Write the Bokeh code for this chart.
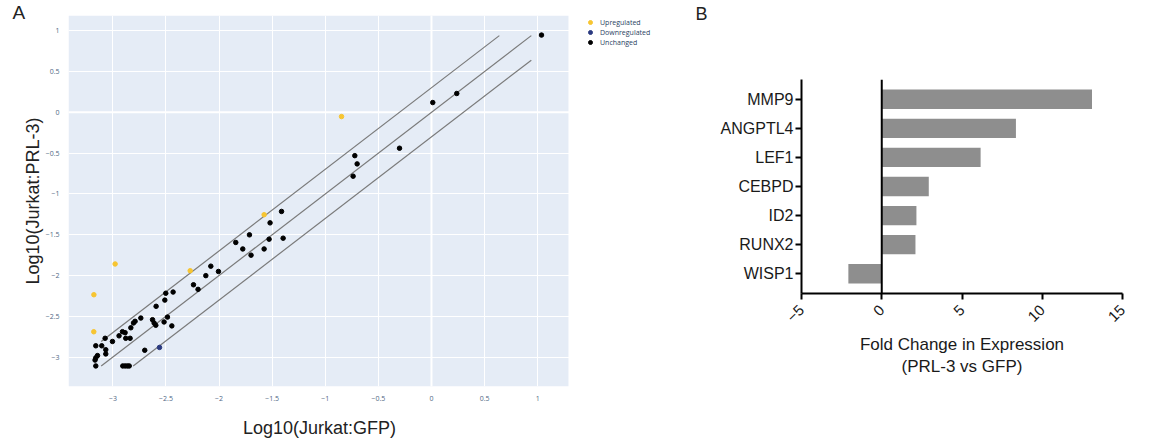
import math
from bokeh.plotting import figure
from bokeh.layouts import row
from bokeh.models import Legend, LegendItem, Span, FactorRange, Title, BoxAnnotation
from bokeh.embed import file_html
from bokeh.resources import INLINE

# ---------------- Panel A data ----------------
unchanged_x = [-3.161, -3.105, -3.067, -3.067, -3.145, -3.161, -3.168, -3.161, -3.073, -3.004,
               -2.942, -2.910, -2.885, -2.879, -2.838, -2.831, -2.806, -2.791, -2.737, -2.700,
               -2.627, -2.612, -2.596, -2.593, -2.518, -2.511, -2.502, -2.486, -2.445, -2.433,
               -2.907, -2.885, -2.864, -2.846, -2.241, -2.198, -2.125, -2.078, -2.006, -1.843,
               -1.777, -1.714, -1.699, -1.576, -1.529, -1.520, -1.412, -1.397, -0.722, -0.700,
               -0.738, -0.301, 0.012, 0.238, 1.036]
unchanged_y = [-2.862, -2.862, -2.910, -2.962, -2.982, -3.010, -3.037, -3.109, -2.770, -2.809,
               -2.740, -2.689, -2.701, -2.770, -2.770, -2.641, -2.582, -2.562, -2.522, -2.917,
               -2.542, -2.582, -2.610, -2.378, -2.570, -2.302, -2.218, -2.510, -2.618, -2.203,
               -3.109, -3.109, -3.109, -3.109, -2.114, -2.170, -2.002, -1.886, -1.951, -1.595,
               -1.675, -1.502, -1.751, -1.675, -1.555, -1.355, -1.215, -1.543, -0.531, -0.632,
               -0.783, -0.440, 0.120, 0.231, 0.947]
up_x = [-3.179, -3.180, -2.979, -2.272, -1.576, -0.847]
up_y = [-2.236, -2.690, -1.859, -1.942, -1.255, -0.052]
down_x = [-2.561]
down_y = [-2.882]
diag_lo, diag_hi = -3.11, 0.94
fold_offsets = [0.301, 0.0, -0.301]
a_ticks = [-3.0, -2.5, -2.0, -1.5, -1.0, -0.5, 0.0, 0.5, 1.0]
a_tick_labels = ["\u22123", "\u22122.5", "\u22122", "\u22121.5", "\u22121", "\u22120.5", "0", "0.5", "1"]
legend_labels = ["Upregulated", "Downregulated", "Unchanged"]

# ---------------- Panel B data ----------------
genes = ["MMP9", "ANGPTL4", "LEF1", "CEBPD", "ID2", "RUNX2", "WISP1"]
fold_change = [13.1, 8.36, 6.16, 2.93, 2.16, 2.10, -2.08]
b_ticks = [-5, 0, 5, 10, 15]

ARIAL = "Liberation Sans"
NBSP = "\u00a0"

# ================= Panel A =================
# plot area spans x in [A_X0, A_X1]; the frame is extended to the right to host the legend
A_X0, A_X1, A_XEND = -3.418, 1.29, 2.439
A_Y0, A_Y1 = -3.361, 1.187

pA = figure(width=690, height=440, x_range=(A_X0, A_XEND), y_range=(A_Y0, A_Y1),
            output_backend="svg", toolbar_location=None,
            min_border_left=68, min_border_right=0, min_border_top=15, min_border_bottom=46)
pA.frame_align = False
pA.background_fill_color = "white"
pA.border_fill_color = "white"
pA.outline_line_color = None
pA.add_layout(BoxAnnotation(left=A_X0, right=A_X1, fill_color="#e5ecf6", fill_alpha=1.0,
                            line_color=None, level="image"))
pA.title = Title(text="A", align="left", offset=-56, standoff=-14,
                 text_font=ARIAL, text_font_size="19px", text_font_style="normal",
                 text_color="#222222")
for ax in (pA.xaxis[0], pA.yaxis[0]):
    ax.ticker = a_ticks
    ax.major_label_overrides = dict(zip(a_ticks, a_tick_labels))
    ax.axis_line_color = None
    ax.major_tick_line_color = None
    ax.minor_tick_line_color = None
    ax.major_label_text_font = "Open Sans"
    ax.major_label_text_font_size = "7px"
    ax.major_label_text_color = "#506784"
    ax.major_label_standoff = 3
    ax.axis_label_text_font = ARIAL
    ax.axis_label_text_font_size = "18px"
    ax.axis_label_text_font_style = "normal"
    ax.axis_label_text_color = "#222222"
pA.xaxis.bounds = (A_X0, A_X1)
pA.yaxis.bounds = (A_Y0 + 0.156, A_Y1)
# trailing no-break spaces keep the label centred under the plot area rather than the legend
pA.xaxis.axis_label = "Log10(Jurkat:GFP)" + NBSP * 24
pA.yaxis.axis_label = "Log10(Jurkat:PRL-3)"
pA.xaxis.axis_label_standoff = 14
pA.yaxis.axis_label_standoff = 0
pA.grid.grid_line_color = "white"
pA.grid.grid_line_width = 1
pA.add_layout(Span(location=0, dimension="height", line_color="white", line_width=2, level="underlay"))
pA.add_layout(Span(location=0, dimension="width", line_color="white", line_width=2, level="underlay"))

for off in fold_offsets:
    x0 = max(diag_lo, diag_lo - off)
    x1 = min(diag_hi, diag_hi - off)
    pA.line([x0, x1], [x0 + off, x1 + off], line_color="#7a7a7a", line_width=1.2)

r_up = pA.scatter(up_x, up_y, size=4.5, color="#f7c531")
r_down = pA.scatter(down_x, down_y, size=4.5, color="#2b3a80")
r_unch = pA.scatter(unchanged_x, unchanged_y, size=4.5, color="black")

legend = Legend(items=[LegendItem(label=legend_labels[0], renderers=[r_up]),
                       LegendItem(label=legend_labels[1], renderers=[r_down]),
                       LegendItem(label=legend_labels[2], renderers=[r_unch])],
                location=(517, 339))
legend.background_fill_alpha = 0
legend.border_line_color = None
legend.label_text_font = "Open Sans"
legend.label_text_font_size = "7px"
legend.label_text_color = "#2a3f5f"
legend.glyph_width = 10
legend.glyph_height = 10
legend.label_height = 10
legend.spacing = 0
legend.padding = 2
legend.margin = 0
legend.label_standoff = 5
pA.add_layout(legend, "center")

# ================= Panel B =================
pB = figure(width=461, height=440, x_range=(-5, 15),
            y_range=FactorRange(factors=genes[::-1], range_padding=0.0514),
            output_backend="svg", toolbar_location=None,
            min_border_left=111, min_border_right=29, min_border_top=79, min_border_bottom=147)
pB.frame_align = False
pB.outline_line_color = None
pB.background_fill_color = "white"
pB.border_fill_color = "white"
pB.grid.grid_line_color = None
pB.title = Title(text="B\n" + NBSP + "\n" + NBSP, align="left", offset=-106, standoff=0,
                 text_line_height=1.4,
                 text_font=ARIAL, text_font_size="18px", text_font_style="normal",
                 text_color="#222222")
pB.hbar(y=genes, right=fold_change, left=0, height=0.665, fill_color="#8e8e8e", line_color=None)
pB.add_layout(Span(location=0, dimension="height", line_color="black", line_width=2))

for ax in (pB.xaxis[0], pB.yaxis[0]):
    ax.axis_line_color = "black"
    ax.axis_line_width = 2
    ax.major_tick_line_color = "black"
    ax.major_tick_line_width = 2
    ax.major_tick_out = 6
    ax.major_tick_in = 0
    ax.minor_tick_line_color = None
    ax.major_label_text_font = ARIAL
    ax.major_label_text_color = "#1a1a1a"
pB.yaxis.major_label_text_font_size = "16px"
pB.yaxis.major_label_standoff = 2
pB.xaxis.ticker = b_ticks
pB.xaxis.major_label_text_font_size = "15px"
pB.xaxis.major_label_orientation = math.pi / 4
pB.xaxis.major_label_standoff = 8
pB.xaxis.axis_label = "Fold Change in Expression\n(PRL-3 vs GFP)"
pB.xaxis.axis_label_text_font = ARIAL
pB.xaxis.axis_label_text_font_size = "17px"
pB.xaxis.axis_label_text_font_style = "normal"
pB.xaxis.axis_label_text_color = "#1a1a1a"
pB.xaxis.axis_label_standoff = 5

layout = row(pA, pB)
open("out.html", "w").write(file_html(layout, INLINE))
